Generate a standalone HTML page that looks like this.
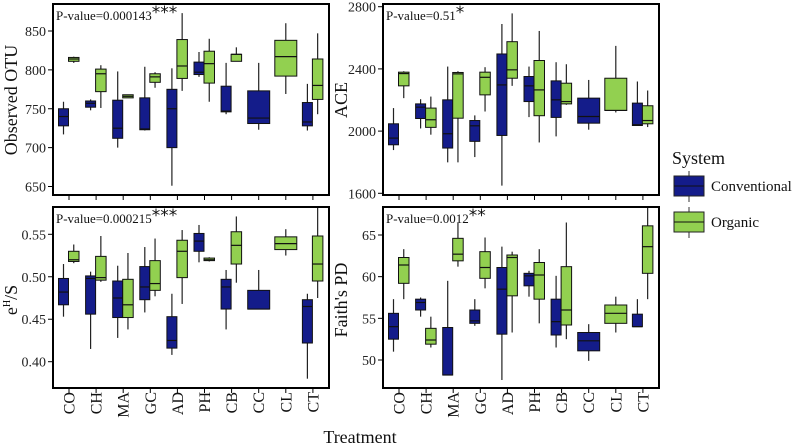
<!DOCTYPE html>
<html><head><meta charset="utf-8"><style>
body{margin:0;background:#fff;width:800px;height:446px;overflow:hidden}
svg{display:block}
svg text{font-family:"Liberation Serif",serif}
</style></head><body>
<svg id="c" width="800" height="446"></svg>
<script>
const categories=["CO","CH","MA","GC","AD","PH","CB","CC","CL","CT"];
// each entry: [whiskerLow, q1, median, q3, whiskerHigh] or null
const otuConv=[[717,728,740,750,759],[748,752,757,760,762],[700,712,725,761,798],[722,723,724,764,804],[651,700,750,775,802],[791,794,797,810,823],[743,746,747,779,809],[723,731,738,773,809],null,[722,728,733,758,782]];
const otuOrg=[[809,811,814,816,817],[751,772,795,801,806],[764,764,766,768,768],[777,784,791,795,797],[773,789,805,839,873],[759,783,808,824,840],[811,811,820,820,829],null,[769,792,817,838,860],[743,762,780,814,847]];
const aceConv=[[1878,1912,1955,2047,2148],[2017,2081,2154,2175,2205],[1799,1891,1983,2201,2415],[1833,1934,2034,2068,2101],[1649,1972,2297,2496,2689],[2090,2190,2291,2351,2415],[1966,2088,2201,2323,2443],[2009,2051,2094,2212,2329],null,[2034,2036,2041,2180,2319]];
const aceOrg=[[2212,2291,2370,2379,2385],[1977,2024,2073,2148,2222],[1799,2083,2368,2377,2385],[2126,2233,2346,2379,2411],[2291,2340,2394,2575,2757],[1927,2099,2265,2454,2644],[2169,2175,2190,2308,2430],null,[2120,2133,2133,2340,2548],[2026,2047,2068,2163,2261]];
const evenConv=[[0.453,0.467,0.482,0.498,0.515],[0.415,0.456,0.498,0.501,0.506],[0.428,0.452,0.475,0.495,0.513],[0.458,0.473,0.488,0.512,0.535],[0.408,0.416,0.425,0.453,0.480],[0.517,0.530,0.542,0.551,0.561],[0.438,0.462,0.488,0.497,0.508],[0.462,0.462,0.462,0.484,0.508],null,[0.380,0.422,0.465,0.473,0.480]];
const evenOrg=[[0.516,0.518,0.520,0.530,0.538],[0.494,0.496,0.499,0.524,0.548],[0.438,0.452,0.467,0.497,0.528],[0.477,0.484,0.492,0.519,0.545],[0.468,0.499,0.530,0.543,0.555],[0.518,0.519,0.520,0.522,0.523],[0.493,0.515,0.537,0.553,0.571],null,[0.525,0.532,0.539,0.547,0.556],[0.475,0.495,0.515,0.548,0.590]];
const pdConv=[[51.0,52.5,54.0,55.6,57.3],[55.2,56.0,56.9,57.3,57.5],[48.2,48.2,48.2,53.9,59.5],[54.1,54.4,54.7,56.0,57.3],[47.6,53.1,58.5,61.1,63.6],[57.6,58.9,60.1,60.4,60.7],[51.5,53.0,54.6,57.3,60.1],[49.9,51.1,52.3,53.3,54.3],null,[54.0,54.0,54.0,55.5,57.3]];
const pdOrg=[[57.3,59.2,61.4,62.3,63.3],[51.5,51.9,52.4,53.8,55.2],[61.2,61.9,62.7,64.6,66.5],[58.6,59.8,61.1,63.0,64.7],[53.3,57.7,62.3,62.6,63.0],[54.4,57.3,60.2,61.7,63.3],[52.5,54.2,56.0,61.2,66.5],null,[53.3,54.4,55.6,56.6,57.6],[57.3,60.4,63.6,66.1,69.0]];
const otuTicks=[650,700,750,800,850];
const aceTicks=[1600,2000,2400,2800];
const evenTicks=[0.40,0.45,0.50,0.55];
const pdTicks=[50,55,60,65];

const NS="http://www.w3.org/2000/svg";
const svg=document.getElementById('c');
function mk(tag,attrs,parent){const e=document.createElementNS(NS,tag);for(const k in attrs)e.setAttribute(k,attrs[k]);(parent||svg).appendChild(e);return e;}
const BLUE="#141c8a",GREEN="#92d050";
const SERIF='"Liberation Serif",serif';

const panels=[
 {id:"observed-otu",x0:53,x1:329,y0:4,y1:195,v0:650,p0:186.5,v1:850,p1:31,ticks:otuTicks,fmt:v=>v,conv:otuConv,org:otuOrg,title:"Observed OTU",tx:17,ty:100,p:"P-value=0.000143",stars:"***",catLabels:false},
 {id:"ace",x0:383,x1:659,y0:4,y1:195,v0:1600,p0:193.3,v1:2800,p1:6.7,ticks:aceTicks,fmt:v=>v,conv:aceConv,org:aceOrg,title:"ACE",tx:347,ty:100,p:"P-value=0.51",stars:"*",catLabels:false},
 {id:"evenness",x0:53,x1:329,y0:207,y1:388,v0:0.40,p0:361.7,v1:0.55,p1:234.3,ticks:evenTicks,fmt:v=>v.toFixed(2),conv:evenConv,org:evenOrg,title:"",tx:17,ty:300,p:"P-value=0.000215",stars:"***",catLabels:true},
 {id:"faiths-pd",x0:383,x1:659,y0:207,y1:388,v0:50,p0:360,v1:65,p1:235,ticks:pdTicks,fmt:v=>v,conv:pdConv,org:pdOrg,title:"Faith's PD",tx:347,ty:300,p:"P-value=0.0012",stars:"**",catLabels:true}
];

panels.forEach((P,pi)=>{
  const g=mk('g',{});
  
  
  const yS=v=>P.p0+(v-P.v0)*(P.p1-P.p0)/(P.v1-P.v0);
  const xT=i=>P.x0+16+i*27.1;
  const cid='clip'+pi;
  const cp=mk('clipPath',{id:cid},g);
  mk('rect',{x:P.x0,y:P.y0,width:P.x1-P.x0,height:P.y1-P.y0},cp);
  const plot=mk('g',{'clip-path':'url(#'+cid+')'},g);
  function box(d,xa,xb,color,name){
    if(!d)return;
    const bg=mk('g',{},plot);
    
    
    const xc=(xa+xb)/2;
    mk('line',{x1:xc,x2:xc,y1:yS(d[0]),y2:yS(d[4]),stroke:'#222','stroke-width':1.2},bg);
    mk('rect',{x:xa,y:yS(d[3]),width:xb-xa,height:Math.max(1,yS(d[1])-yS(d[3])),fill:color,stroke:'#111','stroke-width':1},bg);
    mk('line',{x1:xa,x2:xb,y1:yS(d[2]),y2:yS(d[2]),stroke:'#111','stroke-width':1.2},bg);
  }
  categories.forEach((c,i)=>{
    const t=xT(i),a=P.conv[i],b=P.org[i];
    if(a&&b){box(a,t-10.5,t-0.5,BLUE,P.id+'-'+c+'-conventional');box(b,t-0.5,t+10,GREEN,P.id+'-'+c+'-organic');}
    else if(a)box(a,t-11,t+11,BLUE,P.id+'-'+c+'-conventional');
    else if(b)box(b,t-11,t+11,GREEN,P.id+'-'+c+'-organic');
    mk('line',{x1:t,x2:t,y1:P.y1,y2:P.y1+5,stroke:'#000','stroke-width':1},g);
    if(P.catLabels){
      const tl=mk('text',{x:0,y:0,transform:`translate(${t+5.5},392) rotate(-90)`,'text-anchor':'end','font-size':16,fill:'#111','font-family':SERIF},g);
      tl.textContent=c;
      
      
    }
  });
  mk('rect',{x:P.x0,y:P.y0,width:P.x1-P.x0,height:P.y1-P.y0,fill:'none',stroke:'#000','stroke-width':2},g);
  P.ticks.forEach(v=>{
    const y=yS(v);
    mk('line',{x1:P.x0-5,x2:P.x0,y1:y,y2:y,stroke:'#000','stroke-width':1},g);
    const tl=mk('text',{x:P.x0-7,y:y+5,'text-anchor':'end','font-size':14,fill:'#222','font-family':SERIF},g);
    tl.textContent=P.fmt(v);
    
    
  });
  const pt=mk('text',{x:P.x0+3,y:P.y0+16,'font-size':13,fill:'#111','font-family':SERIF},g);
  pt.textContent=P.p;
  
  
  const st=mk('tspan',{'font-size':17,dy:-2,'font-family':'"DejaVu Sans",sans-serif'},pt);
  st.textContent=P.stars;
  const yt=mk('text',{x:0,y:0,transform:`translate(${P.tx},${P.ty}) rotate(-90)`,'text-anchor':'middle','font-size':18,fill:'#111','font-family':SERIF},g);
  if(P.title){yt.textContent=P.title;}
  else{yt.textContent='e';const s=mk('tspan',{'font-size':10,dy:-7},yt);s.textContent='H';const s2=mk('tspan',{dy:7},yt);s2.textContent='/S';}
  
  
});

const xt=mk('text',{x:360,y:443,'text-anchor':'middle','font-size':18,fill:'#111','font-family':SERIF});
xt.textContent='Treatment';



const lg=mk('g',{});


const lt=mk('text',{x:672,y:164,'font-size':18,fill:'#111','font-family':SERIF},lg);
lt.textContent='System';
[[BLUE,'Conventional',176],[GREEN,'Organic',212]].forEach(([col,lab,y])=>{
  const e=mk('g',{},lg);
  
  
  mk('line',{x1:689,x2:689,y1:y-5,y2:y+26,stroke:'#333','stroke-width':1},e);
  mk('rect',{x:674,y:y,width:30,height:20,fill:col,stroke:'#222','stroke-width':1},e);
  mk('line',{x1:674,x2:704,y1:y+10,y2:y+10,stroke:'#111','stroke-width':1},e);
  const t=mk('text',{x:711,y:y+15,'font-size':15,fill:'#111','font-family':SERIF},e);
  t.textContent=lab;
});
</script>
</body></html>
